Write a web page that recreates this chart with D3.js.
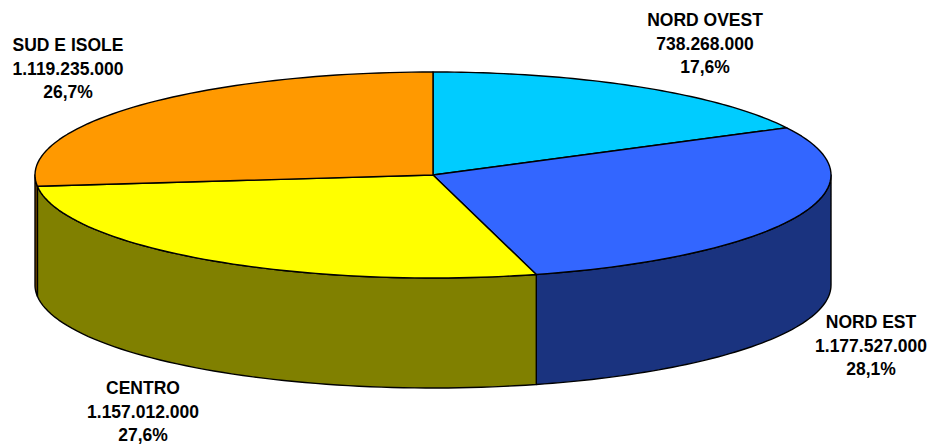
<!DOCTYPE html>
<html><head><meta charset="utf-8">
<script src="https://cdn.jsdelivr.net/npm/d3@7/dist/d3.min.js"></script>
<style>html,body{margin:0;padding:0;background:#fff}svg{display:block}</style>
</head><body><svg id="c" width="930" height="444"></svg>
<script>
const categories = ["NORD OVEST","NORD EST","CENTRO","SUD E ISOLE"];
const values = [738268000,1177527000,1157012000,1119235000];
const valueLabels = ["738.268.000","1.177.527.000","1.157.012.000","1.119.235.000"];
const percentLabels = ["17,6%","28,1%","27,6%","26,7%"];
const topColors = ["#00CCFF","#3366FF","#FFFF00","#FF9900"];
const sideColors = ["#006680","#1A337F","#808000","#7F4D00"];
const labelAnchors = [[705,20],[871,322],[143,388],[68,45]];

const cx=433, cy=175, rx=398, ry=103, depth=110;
const svg=d3.select("#c");
const arcs=d3.pie().sort(null).value(d=>d)(values);
// slight perspective warp of the angle, as in a tilted 3D pie
const warp=a=>a-0.0148*Math.sin(2*a);
const px=a=>cx+rx*Math.sin(warp(a)), py=a=>cy-ry*Math.cos(warp(a));
const sample=(a0,a1)=>d3.range(0,61).map(i=>a0+(a1-a0)*i/60);
const line=d3.line().x(d=>d[0]).y(d=>d[1]);

// walls (front half only, angles PI/2..3PI/2)
arcs.forEach((d,i)=>{
  const a0=Math.max(d.startAngle,Math.PI/2), a1=Math.min(d.endAngle,1.5*Math.PI);
  if(a1<=a0) return;
  const s=sample(a0,a1);
  const pts=s.map(a=>[px(a),py(a)]).concat(s.slice().reverse().map(a=>[px(a),py(a)+depth]));
  svg.append("path").attr("d",line(pts)+"Z").attr("fill",sideColors[i])
    .attr("stroke","#000").attr("stroke-width",1.4).attr("stroke-linejoin","round");
});
// top slices
arcs.forEach((d,i)=>{
  const pts=[[cx,cy]].concat(sample(d.startAngle,d.endAngle).map(a=>[px(a),py(a)]));
  svg.append("path").attr("d",line(pts)+"Z").attr("fill",topColors[i])
    .attr("stroke","#000").attr("stroke-width",1.4).attr("stroke-linejoin","round");
});
// labels
categories.forEach((c,i)=>{
  const t=svg.append("text").attr("text-anchor","middle")
    .attr("font-family","'Liberation Sans',Arial,sans-serif").attr("font-weight","bold")
    .attr("font-size",17.5).attr("fill","#000");
  [c,valueLabels[i],percentLabels[i]].forEach((s,j)=>{
    t.append("tspan").attr("x",labelAnchors[i][0]).attr("y",labelAnchors[i][1]+6+j*23.5).text(s);
  });
});
</script></body></html>
